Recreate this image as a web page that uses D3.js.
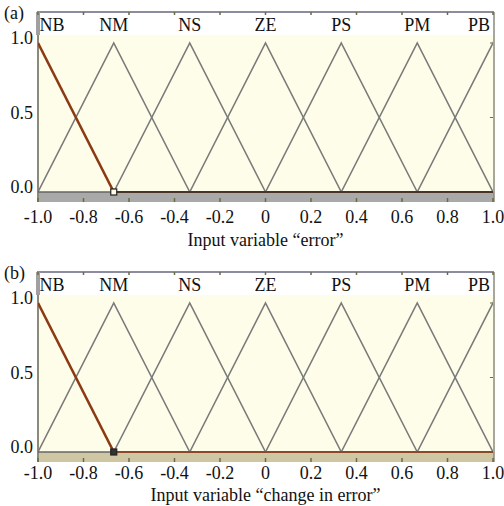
<!DOCTYPE html>
<html>
<head>
<meta charset="utf-8">
<script src="https://cdn.jsdelivr.net/npm/d3@7"></script>
<style>
  body { margin: 0; background: #fff; }
  svg text { font-family: "Liberation Serif", "DejaVu Serif", serif; fill: #111; }
</style>
</head>
<body>
<div id="chart"></div>
<script>
// membership function sets (same for both inputs)
var setNames = ["NB", "NM", "NS", "ZE", "PS", "PM", "PB"];
var setLeft = [-1.333, -1, -0.667, -0.333, 0, 0.333, 0.667];
var setPeak = [-1, -0.667, -0.333, 0, 0.333, 0.667, 1];
var setRight = [-0.667, -0.333, 0, 0.333, 0.667, 1, 1.333];

var xTicks = [-1.0, -0.8, -0.6, -0.4, -0.2, 0, 0.2, 0.4, 0.6, 0.8, 1.0];
var xTickLabels = ["-1.0", "-0.8", "-0.6", "-0.4", "-0.2", "0", "0.2", "0.4", "0.6", "0.8", "1.0"];
var yTicks = [0, 0.5, 1];
var yTickLabels = ["0.0", "0.5", "1.0"];

var panelTags = ["(a)", "(b)"];
var panelTitles = ["Input variable \u201cerror\u201d", "Input variable \u201cchange in error\u201d"];

function init() {
    const w = 504;
    const h = 506;
    const fs = "18px";
    const serif = "'Liberation Serif', 'DejaVu Serif', serif";

    var svg = d3.select("#chart")
        .append("svg")
        .attr("width", w)
        .attr("height", h);

    var x = d3.scaleLinear().domain([-1, 1]).range([38, 493]);

    panelTags.forEach(function (tag, p) {
        var off = p * 260;
        var top = 12 + off;
        var y = d3.scaleLinear().domain([0, 1]).range([192 + off, 43 + off]);
        var bandCol = p == 0 ? "#a9a9a9" : "#cfc6a4";
        var g = svg.append("g");

        // clip to the x range
        var clipId = "clip" + p;
        g.append("clipPath").attr("id", clipId)
            .append("rect")
            .attr("x", x(-1)).attr("y", top)
            .attr("width", x(1) - x(-1)).attr("height", y(0) - top + 1);

        // background: white label band + cream plot area + band under zero line
        g.append("rect")
            .attr("x", x(-1)).attr("y", top)
            .attr("width", x(1) - x(-1)).attr("height", 23)
            .attr("fill", "#ffffff");
        g.append("rect")
            .attr("x", x(-1)).attr("y", top + 23)
            .attr("width", x(1) - x(-1)).attr("height", y(0) - top - 23)
            .attr("fill", "#fdfde9");
        g.append("rect")
            .attr("x", x(-1) - 1).attr("y", y(0))
            .attr("width", x(1) - x(-1) + 2).attr("height", 10)
            .attr("fill", bandCol);

        // frame
        g.append("line")
            .attr("x1", x(-1) - 1).attr("x2", x(1) + 1)
            .attr("y1", top).attr("y2", top)
            .attr("stroke", "#8c8ca0").attr("stroke-width", 2);
        g.append("line")
            .attr("x1", x(-1)).attr("x2", x(-1))
            .attr("y1", top).attr("y2", y(0) + 10)
            .attr("stroke", "#8a8a7a").attr("stroke-width", 2);
        g.append("line")
            .attr("x1", x(-1)).attr("x2", x(-1))
            .attr("y1", top).attr("y2", top + 23)
            .attr("stroke", "#a0a0a0").attr("stroke-width", 4);
        g.append("line")
            .attr("x1", x(1) + 1).attr("x2", x(1) + 1)
            .attr("y1", top).attr("y2", y(0) + 10)
            .attr("stroke", "#8a8a7a").attr("stroke-width", 1.5);

        // ticks top and bottom
        g.selectAll("line.tt")
            .data(xTicks)
            .enter()
            .append("line")
            .attr("x1", function (d) { return x(d); })
            .attr("x2", function (d) { return x(d); })
            .attr("y1", top).attr("y2", top + 3)
            .attr("stroke", "#6b6b40").attr("stroke-width", 1.5);
        g.selectAll("line.bt")
            .data(xTicks)
            .enter()
            .append("line")
            .attr("x1", function (d) { return x(d); })
            .attr("x2", function (d) { return x(d); })
            .attr("y1", y(0) + 6).attr("y2", y(0) + 10)
            .attr("stroke", "#6b6b40").attr("stroke-width", 1.5);
        g.selectAll("line.rt")
            .data(yTicks)
            .enter()
            .append("line")
            .attr("x1", x(1) - 3).attr("x2", x(1))
            .attr("y1", function (d) { return y(d); })
            .attr("y2", function (d) { return y(d); })
            .attr("stroke", "#6b6b40").attr("stroke-width", 1);

        // membership triangles
        var line = d3.line()
            .x(function (d) { return x(d[0]); })
            .y(function (d) { return y(d[1]); });

        var tri = g.append("g").attr("clip-path", "url(#" + clipId + ")");
        setNames.forEach(function (name, i) {
            if (i == 0) return;
            tri.append("path")
                .attr("d", line([[setLeft[i], 0], [setPeak[i], 1], [setRight[i], 0]]))
                .attr("fill", "none")
                .attr("stroke", "#7a7a7a")
                .attr("stroke-width", 1.6);
        });

        // zero line, dark brown
        g.append("line")
            .attr("x1", x(setRight[0])).attr("x2", x(1))
            .attr("y1", y(0)).attr("y2", y(0))
            .attr("stroke", p == 0 ? "#4a3428" : "#8a4a2a")
            .attr("stroke-width", 2.2);
        g.append("line")
            .attr("x1", x(-1)).attr("x2", x(setRight[0]))
            .attr("y1", y(0)).attr("y2", y(0))
            .attr("stroke", "#666").attr("stroke-width", 1.6);

        // highlighted NB set
        tri.append("path")
            .attr("d", line([[setPeak[0], 1], [setRight[0], 0]]))
            .attr("fill", "none")
            .attr("stroke", "#8b3a14")
            .attr("stroke-width", 2.6);

        // marker
        g.append("rect")
            .attr("x", x(setRight[0]) - 3).attr("y", y(0) - 3)
            .attr("width", 6).attr("height", 6)
            .attr("fill", p == 0 ? "#fdfde9" : "#333")
            .attr("stroke", "#222").attr("stroke-width", 1.2);

        // set names
        g.selectAll("text.set")
            .data(setNames)
            .enter()
            .append("text")
            .attr("x", function (d, i) {
                var cx = x(setPeak[i]);
                return Math.max(x(-1) + 14, Math.min(x(1) - 14, cx));
            })
            .attr("y", top + 19)
            .attr("text-anchor", "middle")
            .attr("font-family", serif)
            .attr("font-size", fs)
            .text(function (d) { return d; });

        // y tick labels
        g.selectAll("text.yl")
            .data(yTicks)
            .enter()
            .append("text")
            .attr("x", 33)
            .attr("y", function (d) { return y(d) + 1; })
            .attr("text-anchor", "end")
            .attr("font-family", serif)
            .attr("font-size", fs)
            .text(function (d, i) { return yTickLabels[i]; });

        // x tick labels
        g.selectAll("text.xl")
            .data(xTicks)
            .enter()
            .append("text")
            .attr("x", function (d) { return x(d); })
            .attr("y", y(0) + (p == 0 ? 31 : 27))
            .attr("text-anchor", "middle")
            .attr("font-family", serif)
            .attr("font-size", fs)
            .text(function (d, i) { return xTickLabels[i]; });

        // panel tag and title
        g.append("text")
            .attr("x", 4).attr("y", top + 7)
            .attr("font-family", serif)
            .attr("font-size", fs)
            .text(tag);
        g.append("text")
            .attr("x", (x(-1) + x(1)) / 2).attr("y", y(0) + (p == 0 ? 54 : 49))
            .attr("text-anchor", "middle")
            .attr("font-family", serif)
            .attr("font-size", fs)
            .text(panelTitles[p]);
    });
}
window.onload = init;
</script>
</body>
</html>
